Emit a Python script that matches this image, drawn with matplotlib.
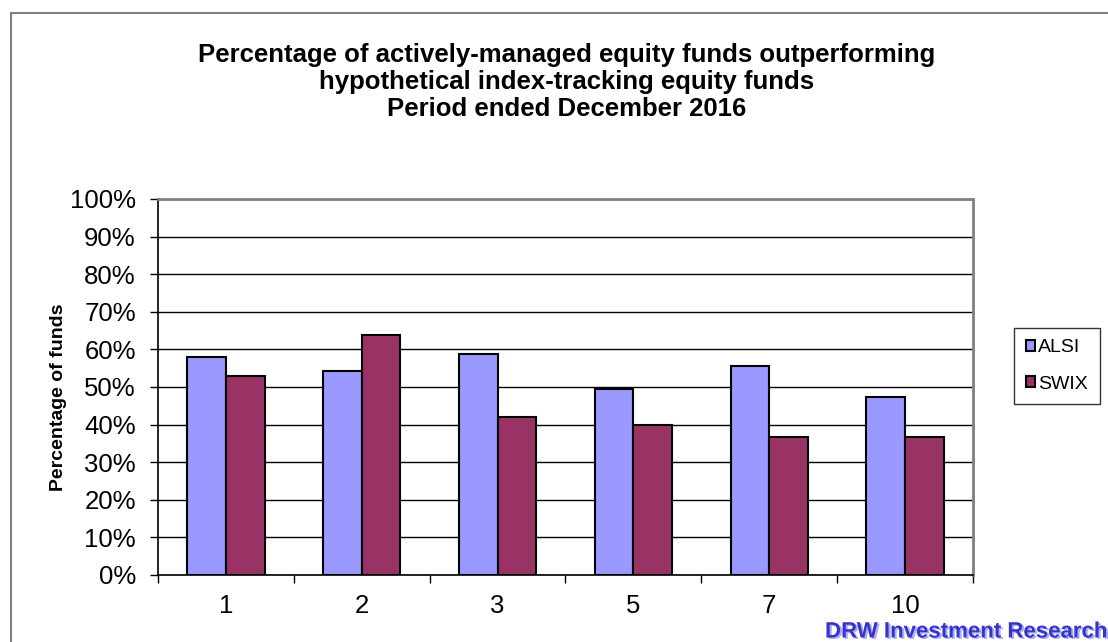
import matplotlib.pyplot as plt
from matplotlib.patches import Rectangle
from matplotlib.ticker import FixedLocator, PercentFormatter
from matplotlib import font_manager
import matplotlib.patheffects as pe
import numpy as np

# Data
periods = ['1', '2', '3', '5', '7', '10']
alsi = [57.9, 54.2, 58.9, 49.4, 55.7, 47.4]
swix = [52.8, 63.8, 41.9, 40.0, 36.8, 36.8]

plt.rcParams['font.family'] = ['Liberation Sans', 'DejaVu Sans']

# narrow font for the watermark, if one is around
names = {f.name for f in font_manager.fontManager.ttflist}
if 'Liberation Sans Narrow' in names:
    wm_family = ['Liberation Sans Narrow']
elif 'DejaVu Sans Condensed' in names:
    wm_family = ['DejaVu Sans Condensed']
else:
    wm_family = ['Liberation Sans', 'DejaVu Sans']

fig = plt.figure(figsize=(11.08, 6.42), dpi=100)

# outer chart frame (cut off at right and bottom like the screenshot)
fig.patches.append(Rectangle((11 / 1108, -0.1), 1.2, 1 - 13 / 642 + 0.1,
                             transform=fig.transFigure, fill=False,
                             edgecolor='#808080', linewidth=1.5))

ax = fig.add_axes([158 / 1108, 1 - 575 / 642, (973 - 158) / 1108, (575 - 199) / 642])

x = np.arange(len(periods))
w = 0.285
ax.bar(x - w / 2, alsi, width=w, color='#9999FF', edgecolor='black', linewidth=1.5,
       label='ALSI', zorder=3)
ax.bar(x + w / 2, swix, width=w, color='#993366', edgecolor='black', linewidth=1.5,
       label='SWIX', zorder=3)

ax.set_xlim(-0.5, len(periods) - 0.5)
ax.set_ylim(0, 100)
ax.set_yticks(np.arange(0, 101, 10))
ax.yaxis.set_major_formatter(PercentFormatter(decimals=0))
ax.yaxis.grid(True, color='black', linewidth=1, zorder=0)

# ticks between categories, labels at category centres
ax.xaxis.set_major_locator(FixedLocator(np.arange(-0.5, len(periods), 1.0)))
ax.xaxis.set_major_formatter(plt.NullFormatter())
ax.xaxis.set_minor_locator(FixedLocator(x))
ax.set_xticklabels(periods, minor=True)
ax.tick_params(axis='x', which='major', direction='out', length=6, width=1)
ax.tick_params(axis='x', which='minor', length=0, pad=14, labelsize=18.5)
ax.tick_params(axis='y', direction='out', length=6, width=1, labelsize=18.5, pad=10)

for side in ['top', 'right']:
    ax.spines[side].set_color('#808080')
    ax.spines[side].set_linewidth(2)
for side in ['left', 'bottom']:
    ax.spines[side].set_color('black')
    ax.spines[side].set_linewidth(1.2)

ax.set_ylabel('Percentage of funds', fontsize=14, fontweight='bold')
ax.yaxis.set_label_coords(-0.112, 0.473)

fig.text(0.511, 1 - 82 / 642,
         'Percentage of actively-managed equity funds outperforming\n'
         'hypothetical index-tracking equity funds\n'
         'Period ended December 2016',
         ha='center', va='center', fontsize=18.5, fontweight='bold', linespacing=1.17)

leg = ax.legend(loc='center left', bbox_to_anchor=(1014 / 1108, 1 - 366 / 642),
                bbox_transform=fig.transFigure, fontsize=14, frameon=True,
                fancybox=False, handlelength=0.5, handleheight=0.5,
                handletextpad=0.15, labelspacing=1.0, borderpad=0.6,
                borderaxespad=0)
leg.get_frame().set_edgecolor('black')
leg.get_frame().set_linewidth(1)

fig.text(1107 / 1108, 1 - 632 / 642, 'DRW Investment Research',
         ha='right', va='center', fontsize=16, fontweight='bold',
         color='#3535cc', fontstretch='condensed', family=wm_family,
         path_effects=[pe.withSimplePatchShadow(offset=(1.5, -1), shadow_rgbFace='#9999ee',
                                                alpha=0.8)])

plt.savefig('out.png', dpi=100)
